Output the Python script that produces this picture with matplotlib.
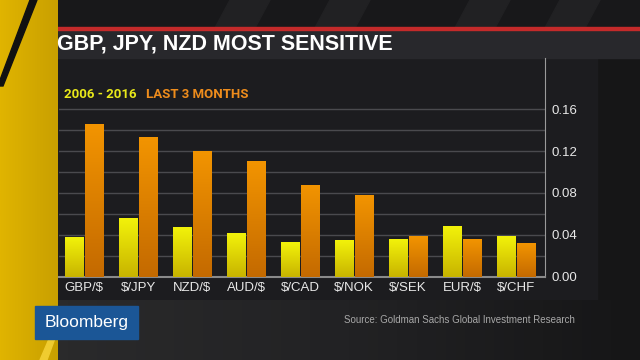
import numpy as np
import matplotlib
matplotlib.use("Agg")
import matplotlib.pyplot as plt
from matplotlib.patches import Rectangle, Polygon
from matplotlib.colors import LinearSegmentedColormap

# data
pairs = ["GBP/$", "$/JPY", "NZD/$", "AUD/$", "$/CAD", "$/NOK", "$/SEK", "EUR/$", "$/CHF"]
long_run = [0.038, 0.056, 0.047, 0.042, 0.033, 0.035, 0.036, 0.048, 0.039]
last_3m = [0.146, 0.133, 0.120, 0.110, 0.088, 0.078, 0.039, 0.036, 0.032]
ticks = [0.00, 0.04, 0.08, 0.12, 0.16]
grid_minor = [0.02, 0.06, 0.10, 0.14]

W, H = 640, 360
fig = plt.figure(figsize=(6.4, 3.6), dpi=100, facecolor="#1b1b1d")

# background decoration in pixel coordinates
bg = fig.add_axes([0, 0, 1, 1])
bg.set_xlim(0, W)
bg.set_ylim(H, 0)
bg.axis("off")
bg.add_patch(Rectangle((0, 0), W, 28, color="#18181a"))
for x0 in (230, 330, 470, 560):
    bg.add_patch(Polygon([(x0, 0), (x0 + 40, 0), (x0 + 25, 28), (x0 - 15, 28)], color="#212123"))
bg.add_patch(Rectangle((597, 58), 43, 302, color="#161617"))
bg.add_patch(Rectangle((58, 58), 539, 242, color="#1c1c1f"))
# lower gradient strip (lighter at the bottom left, fading right)
grad = np.linspace(0, 1, 60).reshape(1, -1)
bg.imshow(grad, extent=[58, 640, 360, 300], cmap=LinearSegmentedColormap.from_list("g", ["#2a2a2b", "#222224", "#161617"]),
          aspect="auto", zorder=1)
bg.add_patch(Rectangle((54, 30), W - 54, 28, color="#28282c", zorder=2))
bg.add_patch(Rectangle((54, 27), W - 54, 3, color="#c42a2a", zorder=2))
# left yellow strip
bg.imshow(np.linspace(0, 1, 50).reshape(1, -1), extent=[0, 58, 360, 0],
          cmap=LinearSegmentedColormap.from_list("y", ["#e0b400", "#c9a000"]), aspect="auto", zorder=2)
bg.add_patch(Polygon([(30, 0), (37, 0), (3, 86), (0, 86), (0, 80)], color="#111111", zorder=3))
bg.add_patch(Polygon([(40, 360), (47, 360), (58, 330), (58, 318)], color="#f0cc30", zorder=3))
bg.set_xlim(0, W)
bg.set_ylim(H, 0)

# Bloomberg logo box
bg.add_patch(Rectangle((35, 306), 103, 33, color="#1b5696", zorder=4))
bg.text(86.5, 322.5, "Bloomberg", color="white", fontsize=12.5, family="Liberation Sans",
        ha="center", va="center", zorder=5)

fig.text(57 / W, 1 - 44 / H, "GBP, JPY, NZD MOST SENSITIVE", color="white", fontsize=15.5,
         fontweight="bold", family="Liberation Sans", va="center")
fig.text(64 / W, 1 - 95 / H, "2006 - 2016", color="#e8e81a", fontsize=9.5,
         fontweight="bold", family="Roboto", va="center")
fig.text(146 / W, 1 - 95 / H, "LAST 3 MONTHS", color="#ee8c1c", fontsize=9.5,
         fontweight="bold", family="Roboto", va="center")
fig.text(575 / W, 1 - 320 / H, "Source: Goldman Sachs Global Investment Research", color="#a8a8a8",
         fontsize=7, family="Liberation Sans", ha="right", va="center")

# chart axes
ax = fig.add_axes([59 / W, 1 - 276.7 / H, 486 / W, 218.7 / H])
ax.set_facecolor("none")
x = np.arange(len(pairs))
w = 0.35
off = 0.19
b1 = ax.bar(x - off, long_run, w, color="#e6e000", zorder=3)
b2 = ax.bar(x + off, last_3m, w, color="#e08400", zorder=3)

cm_y = LinearSegmentedColormap.from_list("yb", ["#c8b400", "#f2f20a"])
cm_o = LinearSegmentedColormap.from_list("ob", ["#c46a00", "#f29400"])
g = np.linspace(0, 1, 64).reshape(-1, 1)
for bars, cm in ((b1, cm_y), (b2, cm_o)):
    for r in bars:
        x0, h = r.get_x(), r.get_height()
        im = ax.imshow(g, extent=[x0, x0 + r.get_width(), 0, h], origin="lower",
                       cmap=cm, aspect="auto", zorder=4)
        im.set_clip_path(r)

ax.set_xlim(-0.467, 8.533)
ax.set_ylim(0, 0.2088)
ax.set_yticks(ticks)
ax.set_yticks(grid_minor, minor=True)
ax.set_yticklabels([f"{t:.2f}" for t in ticks])
ax.yaxis.tick_right()
ax.grid(axis="y", which="both", color="#4a4a4e", linewidth=1, zorder=1)
ax.set_xticks(x)
ax.set_xticklabels(pairs)
ax.tick_params(axis="both", which="both", length=0, colors="#e8e8e8", labelsize=9.5)
ax.tick_params(axis="y", pad=5)
ax.tick_params(axis="x", pad=4)
for lab in ax.get_xticklabels() + ax.get_yticklabels():
    lab.set_family("Liberation Sans")
for s in ("top", "left"):
    ax.spines[s].set_visible(False)
ax.spines["right"].set_color("#9a9a9a")
ax.spines["bottom"].set_color("#8a8a8a")
ax.spines["bottom"].set_linewidth(1.5)

fig.savefig("out.png", dpi=100, facecolor=fig.get_facecolor())
